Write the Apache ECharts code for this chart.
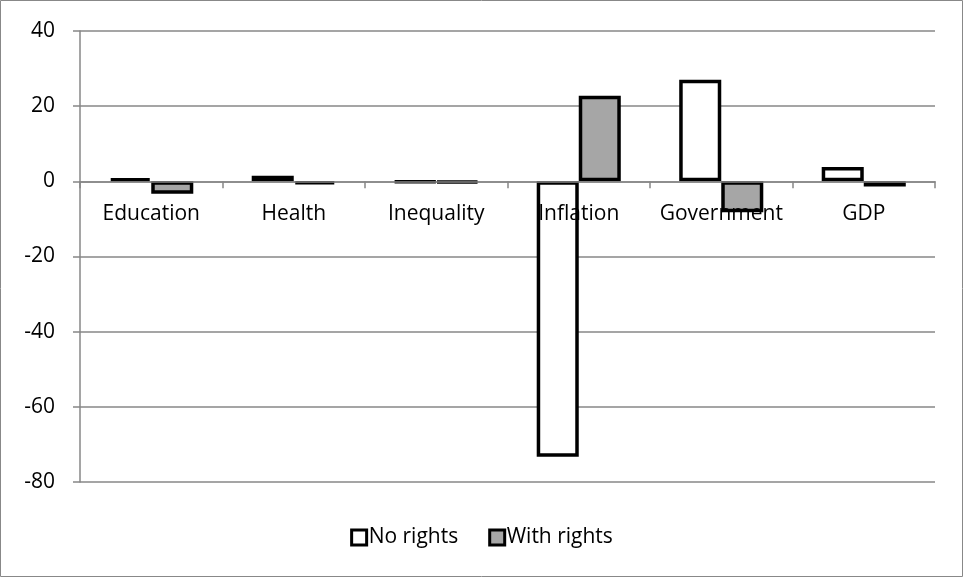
<!DOCTYPE html>
<html>
<head>
<meta charset="utf-8">
<script src="https://cdn.jsdelivr.net/npm/echarts@6/dist/echarts.min.js"></script>
<style>
  html, body { margin: 0; padding: 0; background: #fff; }
  #chart { width: 963px; height: 577px; }
</style>
</head>
<body>
<div id="chart"></div>
<script>
// Categories and the two series of changes
const categories = ['Education', 'Health', 'Inequality', 'Inflation', 'Government', 'GDP'];
const noRights = [0.8, 1.5, -0.2, -73.3, 27, 3.8];
const withRights = [-3.3, -0.8, -0.4, 22.8, -8.2, -1.4];
const yTicks = { min: -80, max: 40, interval: 20 };

const font = '"Open Sans", "Noto Sans", sans-serif';
const gridGray = '#878787';

const W = 963, H = 577;
const gridBox = { left: 80, right: 28, top: 31, bottom: 95 };
const plotH = H - gridBox.top - gridBox.bottom;
// distance of the zero line above the bottom of the plot, so category labels sit under it
const zeroOffset = (0 - yTicks.min) / (yTicks.max - yTicks.min) * plotH;

const chart = echarts.init(document.getElementById('chart'), null, { renderer: 'canvas' });

chart.setOption({
  animation: false,
  backgroundColor: '#fff',
  textStyle: { fontFamily: font },
  graphic: [{
    type: 'rect',
    shape: { x: 0.5, y: 0.5, width: W - 1, height: H - 1 },
    style: { fill: 'none', stroke: '#888', lineWidth: 1 },
    silent: true
  }],
  grid: Object.assign({ containLabel: false }, gridBox),
  legend: {
    bottom: 24,
    left: 'center',
    itemWidth: 15,
    itemHeight: 15,
    itemGap: 30,
    icon: 'rect',
    itemStyle: { borderWidth: 3, borderColor: '#000' },
    textStyle: { fontSize: 21, color: '#000', fontFamily: font, padding: [0, 0, 0, -3] },
    data: ['No rights', 'With rights']
  },
  xAxis: {
    type: 'category',
    data: categories,
    offset: -zeroOffset,
    z: 5,
    axisLine: { onZero: false, lineStyle: { color: gridGray, width: 1.5 } },
    axisTick: { show: true, length: 7, inside: false, lineStyle: { color: gridGray, width: 1.5 } },
    axisLabel: { color: '#000', fontSize: 21, fontFamily: font, margin: 22, interval: 0 },
    splitLine: { show: false }
  },
  yAxis: {
    type: 'value',
    min: yTicks.min,
    max: yTicks.max,
    interval: yTicks.interval,
    axisLine: { show: true, lineStyle: { color: gridGray, width: 1.5 } },
    axisTick: { show: true, length: 7, lineStyle: { color: gridGray, width: 1.5 } },
    axisLabel: { color: '#000', fontSize: 21, fontFamily: font, margin: 25 },
    splitLine: { show: true, lineStyle: { color: gridGray, width: 1.5 } }
  },
  series: [
    {
      name: 'No rights',
      type: 'bar',
      data: noRights,
      barWidth: '29.5%',
      barGap: '0%',
      z: 3,
      itemStyle: { color: '#ffffff', borderColor: '#000', borderWidth: 3.5 }
    },
    {
      name: 'With rights',
      type: 'bar',
      data: withRights,
      barWidth: '29.5%',
      barGap: '0%',
      z: 3,
      itemStyle: { color: '#a6a6a6', borderColor: '#000', borderWidth: 3.5 }
    }
  ]
});
</script>
</body>
</html>
